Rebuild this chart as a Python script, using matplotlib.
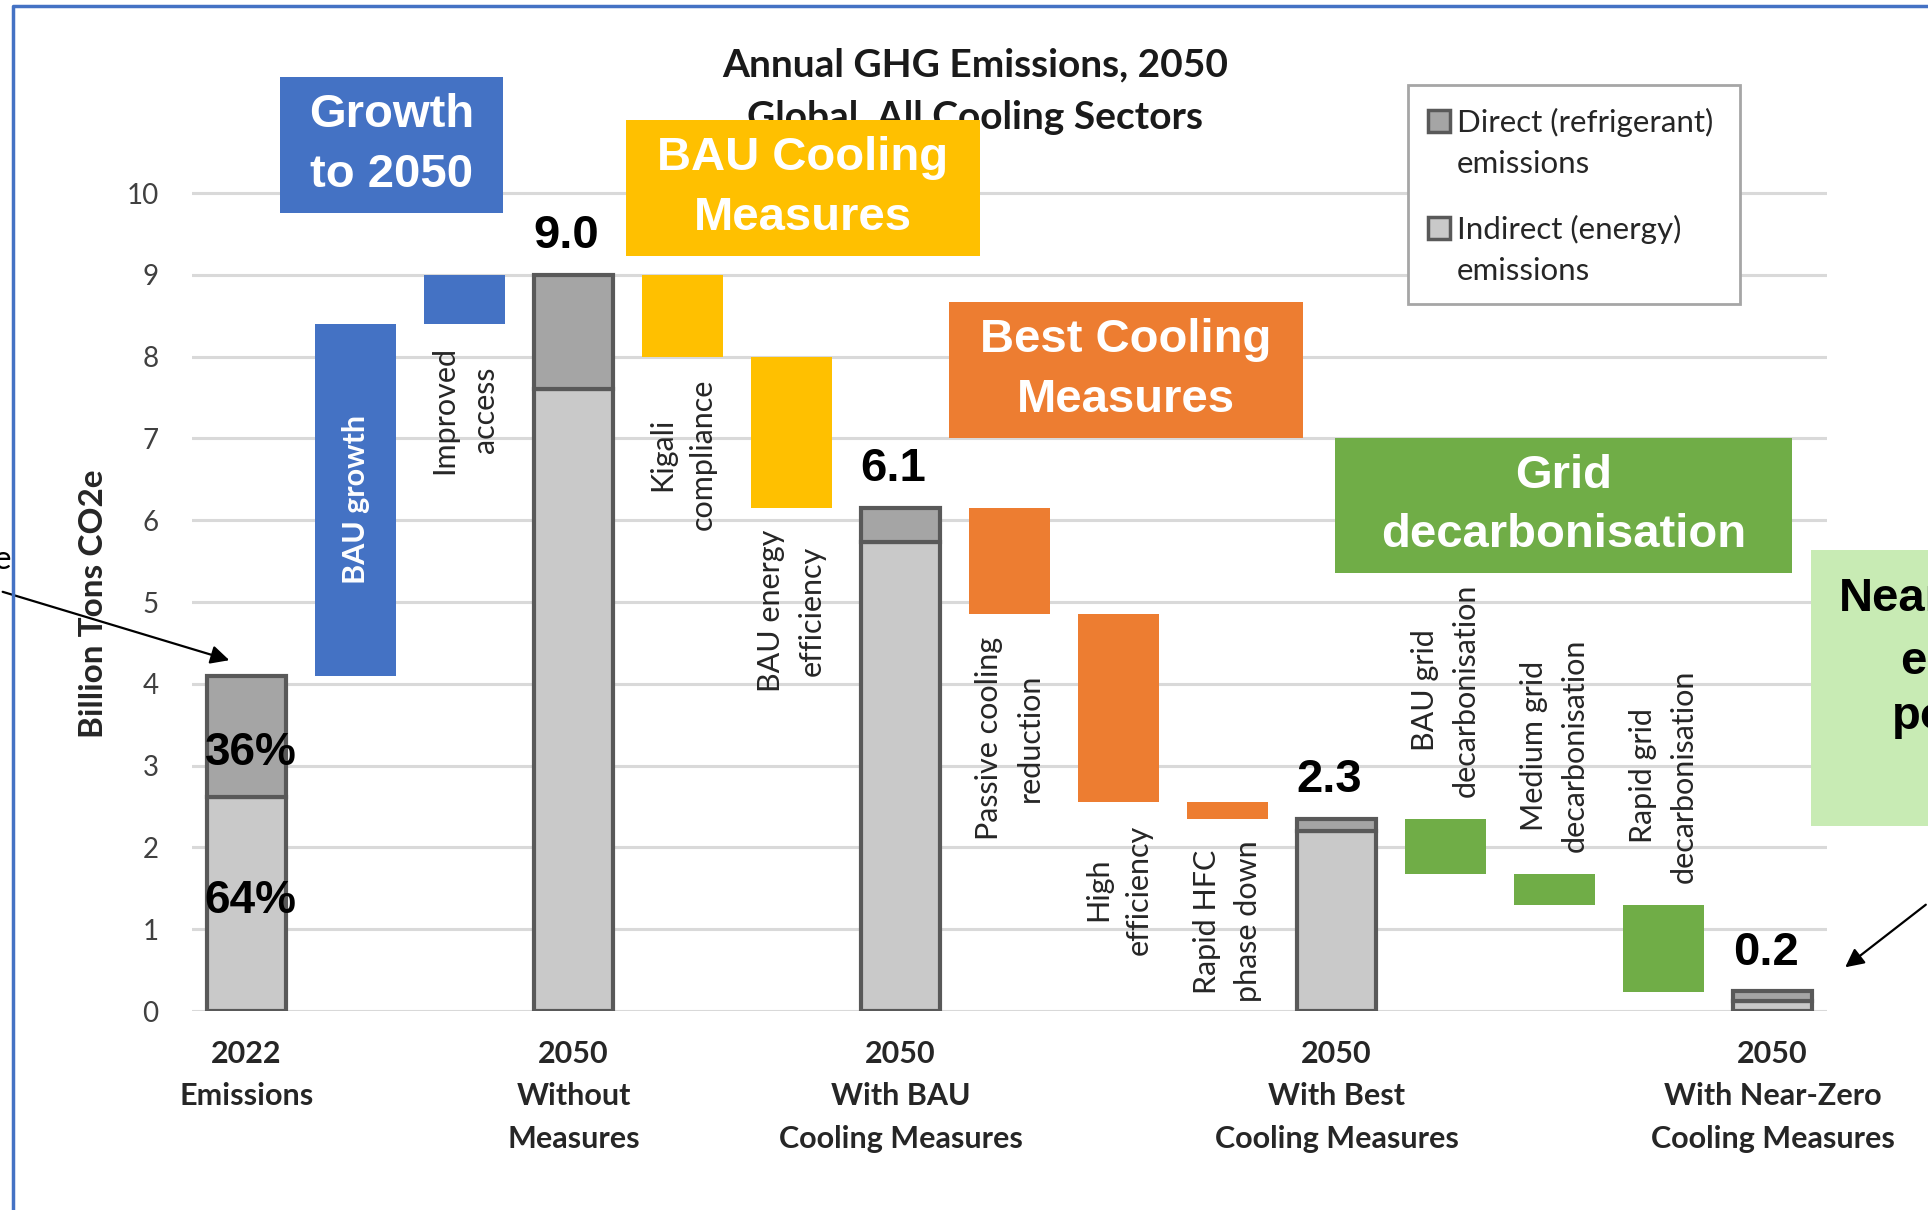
import matplotlib
matplotlib.use("Agg")
import matplotlib.pyplot as plt
from matplotlib.patches import Rectangle
from matplotlib.lines import Line2D

plt.rcParams['font.family'] = ['Lato', 'DejaVu Sans']

W, H = 1928, 1210

# stacked total bars
total_pos = [0, 3, 6, 10, 14]
total_names = ["2022\nEmissions", "2050\nWithout\nMeasures", "2050\nWith BAU\nCooling Measures",
               "2050\nWith Best\nCooling Measures", "2050\nWith Near-Zero\nCooling Measures"]
indirect = [2.62, 7.6, 5.73, 2.2, 0.12]
direct = [1.48, 1.4, 0.42, 0.15, 0.12]
total_text = ["", "9.0", "6.1", "2.3", "0.2"]
share_text = ["36%", "64%"]

# floating (waterfall) steps
step_pos = [1, 2, 4, 5, 7, 8, 9, 11, 12, 13]
step_names = ["BAU growth", "Improved\naccess", "Kigali\ncompliance", "BAU energy\nefficiency",
              "Passive cooling\nreduction", "High\nefficiency", "Rapid HFC\nphase down",
              "BAU grid\ndecarbonisation", "Medium grid\ndecarbonisation", "Rapid grid\ndecarbonisation"]
step_values = [4.3, 0.6, -1.0, -1.85, -1.3, -2.3, -0.2, -0.68, -0.37, -1.07]
step_group = [0, 0, 1, 1, 2, 2, 2, 3, 3, 3]

group_names = ["Growth\nto 2050", "BAU Cooling\nMeasures", "Best Cooling\nMeasures", "Grid\ndecarbonisation"]
group_colors = ["#4472C4", "#FFC000", "#ED7D31", "#70AD47"]

legend_names = ["Direct (refrigerant)\nemissions", "Indirect (energy)\nemissions"]

c_direct = "#A5A5A5"
c_indirect = "#C9C9C9"
c_edge = "#595959"


def fx(x):
    return x / W


def fy(y):
    return 1 - y / H


fig = plt.figure(figsize=(W / 100, H / 100), dpi=100)
ax = fig.add_axes([fx(192), fy(1011), (1827 - 192) / W, (1011 - 144) / H])

# totals
for i, pos in enumerate(total_pos):
    ax.bar(pos, indirect[i], width=0.72, color=c_indirect, edgecolor=c_edge, linewidth=3, zorder=3)
    ax.bar(pos, direct[i], bottom=indirect[i], width=0.72, color=c_direct, edgecolor=c_edge,
           linewidth=3, zorder=3)
    if total_text[i]:
        ax.annotate(total_text[i], (pos, indirect[i] + direct[i]), xytext=(-5, 12),
                    textcoords="offset points", ha="center", va="bottom", fontsize=34,
                    fontweight="bold", family="Liberation Sans", zorder=4)

ax.text(total_pos[0] + 0.04, indirect[0] + direct[0] / 2 - 0.2, share_text[0], ha="center", va="center",
        fontsize=33, fontweight="bold", family="Liberation Sans", zorder=4)
ax.text(total_pos[0] + 0.04, indirect[0] / 2 + 0.03, share_text[1], ha="center", va="center",
        fontsize=33, fontweight="bold", family="Liberation Sans", zorder=4)

# waterfall steps
level = indirect[0] + direct[0]
for i, pos in enumerate(step_pos):
    val = step_values[i]
    bottom = level if val > 0 else level + val
    top = bottom + abs(val)
    ax.bar(pos, abs(val), bottom=bottom, width=0.75, color=group_colors[step_group[i]], zorder=3)
    if i == 0:
        ax.text(pos, (bottom + top) / 2, step_names[i], rotation=90, ha="center", va="center",
                color="white", fontsize=22, fontweight="bold", zorder=4)
    elif step_group[i] == 3:
        ax.text(pos, top + 0.27, step_names[i], rotation=90, ha="center", va="bottom",
                multialignment="center", fontsize=22, color="#262626", linespacing=1.55, zorder=4)
    else:
        ax.text(pos, bottom - 0.27, step_names[i], rotation=90, ha="center", va="top",
                multialignment="center", fontsize=22, color="#262626", linespacing=1.55, zorder=4)
    level += val

ax.set_xlim(-0.5, 14.5)
ax.set_ylim(0, 10.6)
ax.set_yticks(range(0, 11))
ax.set_xticks(total_pos)
ax.set_xticklabels(total_names, fontsize=22, fontweight="bold", color="#262626", linespacing=1.62)
ax.tick_params(axis="x", length=0, pad=21)
ax.tick_params(axis="y", length=0, pad=24, labelsize=20, labelcolor="#404040")
ax.grid(axis="y", color="#D9D9D9", linewidth=2.2)
ax.set_axisbelow(True)
for s in ax.spines.values():
    s.set_visible(False)
ax.set_ylabel("Billion Tons CO2e", fontsize=24, fontweight="bold", color="#262626")
ax.yaxis.set_label_coords(-0.0605, 0.47)
ax.yaxis.label.set_va("center")

# title (partly covered by the BAU box)
fig.text(fx(975), fy(91), "Annual GHG Emissions, 2050\nGlobal, All Cooling Sectors", ha="center",
         va="center", fontsize=28, fontweight="bold", color="#1a1a1a", linespacing=1.62, zorder=2)

# group callout boxes
boxes = [(280, 77, 503, 213), (626, 120, 980, 256), (949, 302, 1303, 438), (1335, 438, 1792, 573)]
for (x0, y0, x1, y1), name, color in zip(boxes, group_names, group_colors):
    fig.add_artist(Rectangle((fx(x0), fy(y1)), (x1 - x0) / W, (y1 - y0) / H, transform=fig.transFigure,
                             facecolor=color, edgecolor="none", zorder=5))
    fig.text(fx((x0 + x1) / 2), fy((y0 + y1) / 2), name, ha="center", va="center", color="white",
             fontsize=34, fontweight="bold", family="Liberation Sans", linespacing=1.45, zorder=6)

# near-zero box, cut off at the right edge
fig.add_artist(Rectangle((fx(1811), fy(826)), 200 / W, (826 - 550) / H, transform=fig.transFigure,
                         facecolor="#C8EBB4", edgecolor="none", zorder=5))
for txt, x, y in [("Near-Zero", 1839, 611), ("emissions", 1900, 674), ("possible", 1892, 729)]:
    fig.text(fx(x), fy(y), txt, ha="left", va="baseline", fontsize=34, fontweight="bold",
             family="Liberation Sans", color="black", zorder=6)

# legend drawn by hand
fig.add_artist(Rectangle((fx(1408), fy(304)), (1740 - 1408) / W, (304 - 85) / H, transform=fig.transFigure,
                         facecolor="white", edgecolor="#A6A6A6", linewidth=2, zorder=4))
for name, color, yc in zip(legend_names, [c_direct, c_indirect], [121, 228]):
    fig.add_artist(Rectangle((fx(1428), fy(yc + 11)), 22 / W, 22 / H, transform=fig.transFigure,
                             facecolor=color, edgecolor=c_edge, linewidth=2.5, zorder=5))
    fig.text(fx(1457), fy(yc - 13), name, ha="left", va="top", fontsize=22.5, color="#262626",
             linespacing=1.55, zorder=5)

# arrows and cut-off text from the slide
ax.annotate("", xy=(fx(232), fy(661)), xycoords="figure fraction", xytext=(fx(0), fy(591)),
            textcoords="figure fraction", annotation_clip=False,
            arrowprops=dict(arrowstyle="-|>", color="black", lw=1.6, mutation_scale=28))
ax.annotate("", xy=(fx(1843), fy(969)), xycoords="figure fraction", xytext=(fx(1928), fy(903)),
            textcoords="figure fraction", annotation_clip=False,
            arrowprops=dict(arrowstyle="-|>", color="black", lw=1.6, mutation_scale=28))
fig.text(fx(2), fy(560), "e", ha="center", va="center", fontsize=24, color="black")

# slide border
fig.add_artist(Line2D([fx(13), fx(13), 1.0], [0.0, fy(6), fy(6)], transform=fig.transFigure,
                      color="#4472C4", linewidth=2.5, zorder=7))

fig.savefig("out.png", dpi=100)
